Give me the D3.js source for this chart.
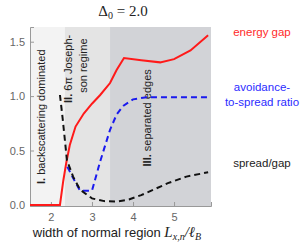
<!DOCTYPE html>
<html>
<head>
<meta charset="utf-8">
<script src="https://cdn.jsdelivr.net/npm/d3@7"></script>
<style>
  body { margin: 0; background: #fff; }
  svg { display: block; font-family: "Liberation Sans", Arial, sans-serif; }
</style>
</head>
<body>
<svg id="chart" width="308" height="244"></svg>
<script>
// regimes: [start, end, fill]
const regionX = [1.49, 2.34, 3.44, 5.9];
const regionFill = ["#f3f3f3", "#e4e4e4", "#d2d3d7"];

// curves
const gapX = [1.49, 2.22, 2.3, 2.37, 2.46, 2.6, 2.8, 3.0, 3.2, 3.44, 3.6, 3.78, 4.2, 4.66, 5.0, 5.4, 5.83];
const gapY = [0, 0, 0.22, 0.38, 0.55, 0.72, 0.84, 0.93, 1.01, 1.12, 1.24, 1.35, 1.33, 1.31, 1.34, 1.42, 1.56];

const ratioX = [2.4, 2.55, 2.71, 3.0, 3.2, 3.44, 3.6, 3.76, 4.0, 4.34, 5.83];
const ratioY = [0.35, 0.24, 0.13, 0.13, 0.4, 0.69, 0.83, 0.91, 0.97, 0.99, 0.99];

const spreadX = [2.22, 2.29, 2.39, 2.54, 2.71, 3.0, 3.3, 3.6, 3.9, 4.2, 4.5, 4.85, 5.3, 5.83];
const spreadY = [1.01, 0.78, 0.41, 0.26, 0.14, 0.06, 0.035, 0.03, 0.05, 0.09, 0.14, 0.2, 0.26, 0.3];

const xTicks = [2, 3, 4, 5];
const yTicks = [0, 0.5, 1.0, 1.5];

const margin = { top: 27, right: 97, bottom: 38, left: 30 };
const width = 308 - margin.left - margin.right;
const height = 244 - margin.top - margin.bottom;

const svg = d3.select("#chart");
const g = svg.append("g").attr("transform", `translate(${margin.left},${margin.top})`);

const x = d3.scaleLinear().domain([1.49, 5.9]).range([0, width]);
const y = d3.scaleLinear().domain([-0.01, 1.635]).range([height, 0]);

// shaded regimes
g.selectAll(".region")
  .data(regionFill)
  .enter()
  .append("rect")
  .attr("x", (d, i) => x(regionX[i]))
  .attr("width", (d, i) => x(regionX[i + 1]) - x(regionX[i]))
  .attr("y", 0)
  .attr("height", height)
  .attr("fill", d => d);

// regime labels
const labelStyle = sel => sel.attr("font-size", 11).attr("fill", "#222").attr("text-anchor", "middle");

const l1 = g.append("text").call(labelStyle)
  .attr("transform", `translate(${x(1.85)},${y(0.81)}) rotate(-90)`);
l1.append("tspan").attr("font-weight", "bold").text("I.");
l1.append("tspan").text(" backscattering dominated");

const l2 = g.append("text").call(labelStyle)
  .attr("transform", `translate(${x(2.52)},${y(1.25)}) rotate(-90)`);
l2.append("tspan").attr("font-weight", "bold").text("II.");
l2.append("tspan").text(" 6π Joseph-");
g.append("text").call(labelStyle)
  .attr("transform", `translate(${x(2.88)},${y(1.28)}) rotate(-90)`)
  .text("son regime");

const l3 = g.append("text").call(labelStyle)
  .attr("transform", `translate(${x(4.43)},${y(0.8)}) rotate(-90)`);
l3.append("tspan").attr("font-weight", "bold").text("III.");
l3.append("tspan").text(" separated edges");

// axes
const axisColor = "#999";
const xAxis = g.append("g")
  .attr("transform", `translate(0,${height})`)
  .call(d3.axisBottom(x).tickValues(xTicks).tickFormat(d3.format("d")).tickSize(-4).tickPadding(7));
const yAxis = g.append("g")
  .call(d3.axisLeft(y).tickValues(yTicks).tickFormat(d3.format(".1f")).tickSize(-4).tickPadding(5));
[xAxis, yAxis].forEach(a => {
  a.select(".domain").attr("stroke", axisColor);
  a.selectAll(".tick line").attr("stroke", axisColor);
  a.selectAll("text").attr("fill", "#666").attr("font-size", 11)
    .attr("font-family", "Liberation Sans, Arial, sans-serif");
});

// curves
const line = d3.line().x(d => x(d[0])).y(d => y(d[1]));
const series = [
  { xs: gapX, ys: gapY, color: "#ff1a1a", dash: null },
  { xs: ratioX, ys: ratioY, color: "#1a1aee", dash: "6,4" },
  { xs: spreadX, ys: spreadY, color: "#111", dash: "6,4" }
];
series.forEach(s => {
  g.append("path")
    .datum(s.xs.map((v, i) => [v, s.ys[i]]))
    .attr("d", line)
    .attr("fill", "none")
    .attr("stroke", s.color)
    .attr("stroke-width", 2)
    .attr("stroke-dasharray", s.dash);
});

// legend text at right
const legend = [
  { lines: ["energy gap"], color: "#ff2a2a", yv: 1.55 },
  { lines: ["avoidance-", "to-spread ratio"], color: "#2b2bff", yv: 1.05 },
  { lines: ["spread/gap"], color: "#222", yv: 0.35 }
];
legend.forEach(l => {
  l.lines.forEach((t, i) => {
    g.append("text")
      .attr("x", width + 51)
      .attr("y", y(l.yv) + i * 15)
      .attr("text-anchor", "middle")
      .attr("font-size", 11.5)
      .attr("fill", l.color)
      .text(t);
  });
});

// title
const title = svg.append("text")
  .attr("x", 123)
  .attr("y", 16)
  .attr("text-anchor", "middle")
  .attr("font-family", "Liberation Serif, Times New Roman, serif")
  .attr("font-size", 15)
  .attr("fill", "#222");
title.append("tspan").text("Δ");
title.append("tspan").attr("font-size", 10).attr("dy", 3).text("0");
title.append("tspan").attr("dy", -3).text(" = 2.0");

// x axis label
const xl = svg.append("text")
  .attr("x", 117)
  .attr("y", 237)
  .attr("text-anchor", "middle")
  .attr("font-size", 13)
  .attr("fill", "#222");
xl.append("tspan").text("width of normal region ");
const xm = xl.append("tspan").attr("font-family", "Liberation Serif, Times New Roman, serif")
  .attr("font-style", "italic").attr("font-size", 15);
xm.append("tspan").text("L");
xm.append("tspan").attr("font-size", 10).attr("dy", 3).text("x,n");
xm.append("tspan").attr("dy", -3).text("/ℓ");
xm.append("tspan").attr("font-size", 10).attr("dy", 3).text("B");
</script>
</body>
</html>
